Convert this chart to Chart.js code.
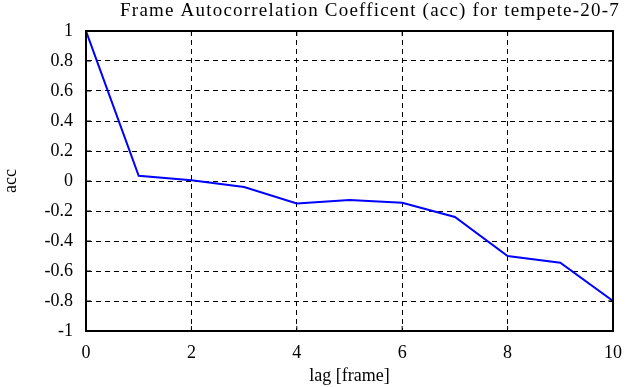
<!DOCTYPE html>
<html>
<head>
<meta charset="utf-8">
<script src="https://cdn.jsdelivr.net/npm/chart.js@4"></script>
<style>
  html, body { margin: 0; padding: 0; background: #fff; }
  #wrap { width: 635px; height: 387px; }
</style>
</head>
<body>
<div id="wrap"><canvas id="accChart" width="635" height="387"></canvas></div>
<script>
// values
const lags = [0, 1, 2, 3, 4, 5, 6, 7, 8, 9, 10];
const accValues = [1.0, 0.035, 0.005, -0.04, -0.15, -0.127, -0.145, -0.24, -0.50, -0.545, -0.80];
const xTicks = [0, 2, 4, 6, 8, 10];
const yTicks = [-1, -0.8, -0.6, -0.4, -0.2, 0, 0.2, 0.4, 0.6, 0.8, 1];

const chartTitle = 'Frame Autocorrelation Coefficent (acc) for tempete-20-7';
const serif = '"Liberation Serif", "Times New Roman", serif';

// gnuplot style frame with inward ticks, plus the title
const framePlugin = {
    id: 'frame',
    afterDraw(chart) {
        const { ctx, chartArea } = chart;
        const { left, right, top, bottom } = chartArea;
        const xs = chart.scales.x, ys = chart.scales.y;
        const tl = 5;
        ctx.save();
        ctx.strokeStyle = '#000';
        ctx.lineWidth = 1;
        ctx.beginPath();
        xTicks.forEach(v => {
            const px = xs.getPixelForValue(v);
            ctx.moveTo(px, bottom); ctx.lineTo(px, bottom - tl);
            ctx.moveTo(px, top); ctx.lineTo(px, top + tl);
        });
        yTicks.forEach(v => {
            const py = ys.getPixelForValue(v);
            ctx.moveTo(left, py); ctx.lineTo(left + tl, py);
            ctx.moveTo(right, py); ctx.lineTo(right - tl, py);
        });
        ctx.stroke();
        ctx.lineWidth = 2;
        ctx.strokeRect(left, top, right - left, bottom - top);
        ctx.fillStyle = '#000';
        ctx.font = '19px ' + serif;
        ctx.letterSpacing = '1.2px';
        ctx.textAlign = 'center';
        ctx.textBaseline = 'middle';
        ctx.fillText(chartTitle, 370, 11);
        ctx.restore();
    }
};

const ctx = document.getElementById('accChart').getContext('2d');
new Chart(ctx, {
    type: 'line',
    data: {
        labels: lags,
        datasets: [{
            label: 'acc',
            data: lags.map((x, i) => ({ x: x, y: accValues[i] })),
            borderColor: '#0000ff',
            borderWidth: 2,
            pointRadius: 0,
            tension: 0,
            fill: false
        }]
    },
    options: {
        responsive: false,
        animation: false,
        layout: {
            padding: { left: 0, right: 22, top: 31, bottom: 0 }
        },
        plugins: {
            legend: { display: false },
            title: { display: false },
            tooltip: { enabled: false }
        },
        scales: {
            x: {
                type: 'linear',
                min: 0,
                max: 10,
                afterBuildTicks: (scale) => { scale.ticks = xTicks.map(v => ({ value: v })); },
                afterFit: (scale) => { scale.height = 56; },
                grid: { color: '#000', lineWidth: 1, drawTicks: false },
                border: { display: true, color: '#000', width: 2, dash: [5, 4] },
                ticks: {
                    color: '#000',
                    padding: 11,
                    maxRotation: 0,
                    font: { family: serif, size: 18 }
                },
                title: {
                    display: true,
                    text: 'lag [frame]',
                    color: '#000',
                    padding: { top: 0, bottom: 0 },
                    font: { family: serif, size: 18 }
                }
            },
            y: {
                min: -1,
                max: 1,
                afterBuildTicks: (scale) => { scale.ticks = yTicks.map(v => ({ value: v })); },
                afterFit: (scale) => { scale.width = 86; },
                grid: { color: '#000', lineWidth: 1, drawTicks: false },
                border: { display: true, color: '#000', width: 2, dash: [5, 4] },
                ticks: {
                    color: '#000',
                    padding: 13,
                    font: { family: serif, size: 18 },
                    callback: (v) => String(Math.round(v * 10) / 10)
                },
                title: {
                    display: true,
                    text: 'acc',
                    color: '#000',
                    padding: { top: 0, bottom: 0 },
                    font: { family: serif, size: 18 }
                }
            }
        }
    },
    plugins: [framePlugin]
});
</script>
</body>
</html>
